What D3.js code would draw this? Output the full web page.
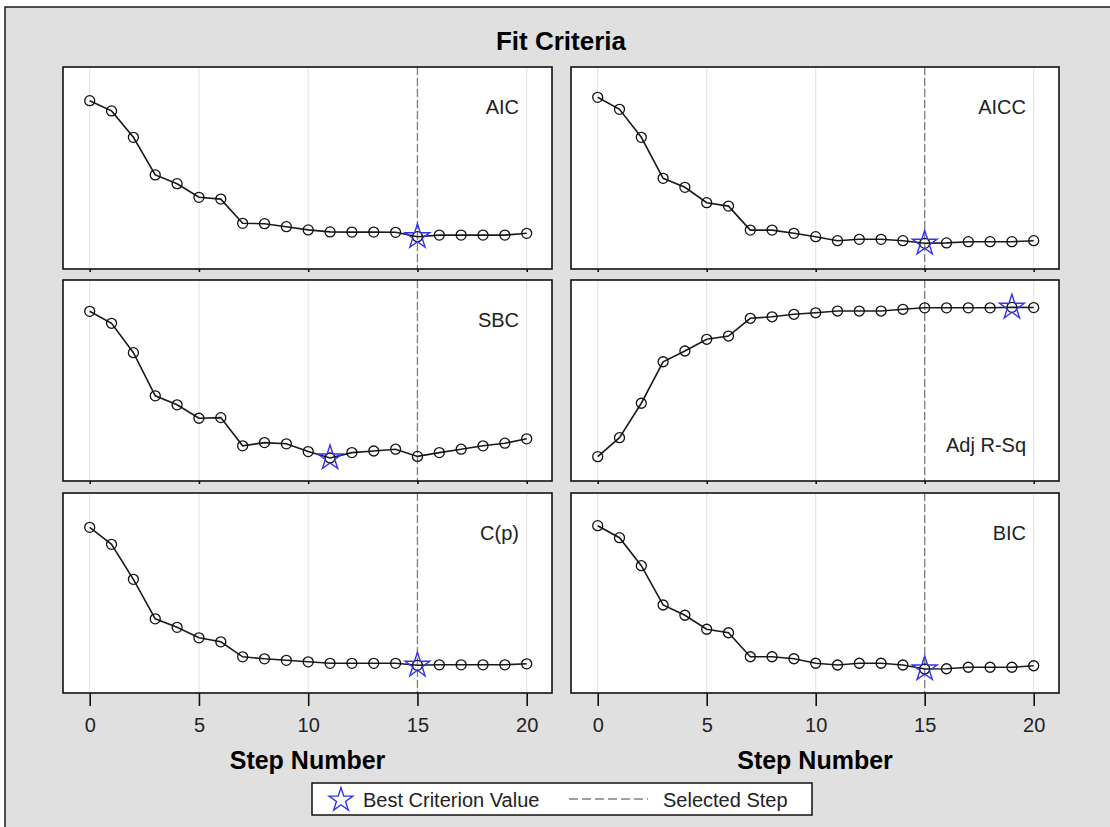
<!DOCTYPE html>
<html>
<head>
<meta charset="utf-8">
<script src="https://cdn.jsdelivr.net/npm/d3@7"></script>
<style>
  html, body { margin: 0; padding: 0; background: #ffffff; }
  svg { display: block; font-family: "Liberation Sans", Arial, sans-serif; }
</style>
</head>
<body>
<svg id="chart" width="1110" height="827"></svg>
<script>
// Step numbers shared by every panel
const steps = d3.range(0, 21);
const xTicks = [0, 5, 10, 15, 20];
const selectedStep = 15;

// Criterion values per step
const aic   = [1200, 1149, 1017, 829, 785, 717, 708, 587, 585, 570, 554, 544, 543, 543, 542, 520, 528, 528, 528, 528, 537];
const aicc  = [1210, 1150, 1010, 805, 760, 683, 666, 546, 546, 530, 513, 493, 500, 500, 493, 480, 482, 488, 488, 488, 493];
const sbc   = [1300, 1240, 1093, 877, 832, 765, 768, 627, 643, 637, 598, 566, 593, 601, 610, 574, 593, 610, 627, 640, 662];
const adjRsq = [0.352, 0.428, 0.566, 0.732, 0.775, 0.822, 0.835, 0.906, 0.912, 0.922, 0.928, 0.935, 0.935, 0.935, 0.942, 0.948, 0.948, 0.948, 0.948, 0.950, 0.949];
const cp    = [300, 266, 196, 117, 100, 79, 71, 41, 37, 34, 31, 28, 28, 28, 28, 24, 25, 25, 25, 25, 27];
const bic   = [1000, 952, 840, 683, 642, 586, 572, 476, 476, 468, 450, 443, 450, 450, 443, 427, 428, 434, 434, 434, 440];

const criterionNames = ["AIC", "AICC", "SBC", "Adj R-Sq", "C(p)", "BIC"];
const criterionValues = [aic, aicc, sbc, adjRsq, cp, bic];
// best value: minimum for all criteria except adjusted R-square (maximum)
const bestIsMax = [false, false, false, true, false, false];

// ---- layout ----
const colX = [63, 571];
const panelW = [489, 488];
const rowY = [67, 280, 493];
const panelH = [202, 201, 200];
const xPadL = 26.7, xPadR = 25.3;
// vertical insets (top, bottom) of the plotted data range in each panel
const insets = [[33.7, 32.3], [30.3, 25.7], [31.3, 23], [27.3, 24.3], [34.3, 27.7], [32.7, 24]];

const svg = d3.select("#chart");

// outer background and frame
svg.append("rect").attr("x", 5).attr("y", 7).attr("width", 1200).attr("height", 900)
  .attr("fill", "#e0e0e0").attr("stroke", "#1a1a1a").attr("stroke-width", 1.5);

// title
svg.append("text").attr("x", 561).attr("y", 50).attr("text-anchor", "middle")
  .attr("font-size", 26).attr("font-weight", "bold").attr("fill", "#000")
  .text("Fit Criteria");

function starPath(r) {
  return d3.symbol().type(d3.symbolStar).size(r * r / 0.8908130915292852)();
}

criterionNames.forEach((name, i) => {
  const col = i % 2, row = Math.floor(i / 2);
  const x0 = colX[col], y0 = rowY[row], w = panelW[col], h = panelH[row];
  const vals = criterionValues[i];
  const data = steps.map((s, k) => ({ step: s, v: vals[k] }));

  const x = d3.scaleLinear().domain([0, 20]).range([x0 + xPadL, x0 + w - xPadR]);
  const y = d3.scaleLinear().domain(d3.extent(vals)).range([y0 + h - insets[i][1], y0 + insets[i][0]]);

  const g = svg.append("g");

  // panel background
  g.append("rect").attr("x", x0).attr("y", y0).attr("width", w).attr("height", h).attr("fill", "#fff");

  // vertical grid lines
  g.selectAll("line.grid").data(xTicks).join("line").attr("class", "grid")
    .attr("x1", d => x(d)).attr("x2", d => x(d)).attr("y1", y0).attr("y2", y0 + h)
    .attr("stroke", "#e6e6e6").attr("stroke-width", 1.2);

  // selected step reference line
  g.append("line").attr("x1", x(selectedStep)).attr("x2", x(selectedStep))
    .attr("y1", y0).attr("y2", y0 + h)
    .attr("stroke", "#808080").attr("stroke-width", 1.3).attr("stroke-dasharray", "8,3");

  // criterion curve
  g.append("path").datum(data)
    .attr("d", d3.line().x(d => x(d.step)).y(d => y(d.v)))
    .attr("fill", "none").attr("stroke", "#1a1a1a").attr("stroke-width", 1.6);

  g.selectAll("circle").data(data).join("circle")
    .attr("cx", d => x(d.step)).attr("cy", d => y(d.v)).attr("r", 5)
    .attr("fill", "none").attr("stroke", "#111").attr("stroke-width", 1.3);

  // best criterion value
  const best = bestIsMax[i] ? d3.greatest(data, d => d.v) : d3.least(data, d => d.v);
  g.append("path").attr("d", starPath(13))
    .attr("transform", `translate(${x(best.step)},${y(best.v)})`)
    .attr("fill", "none").attr("stroke", "#3232f0").attr("stroke-width", 1.4);

  // panel label
  const labelBottom = bestIsMax[i];
  g.append("text")
    .attr("x", x0 + w - 33)
    .attr("y", labelBottom ? y0 + h - 29 : y0 + 47)
    .attr("text-anchor", "end").attr("font-size", 20).attr("fill", "#222")
    .text(name);

  // frame
  g.append("rect").attr("x", x0).attr("y", y0).attr("width", w).attr("height", h)
    .attr("fill", "none").attr("stroke", "#111").attr("stroke-width", 1.6);

  // x axis
  const isBottom = row === 2;
  const axis = d3.axisBottom(x).tickValues(xTicks)
    .tickSize(isBottom ? 13 : 3).tickSizeOuter(0).tickPadding(11);
  const ag = svg.append("g").attr("transform", `translate(0,${y0 + h})`).call(axis);
  ag.select(".domain").remove();
  ag.selectAll(".tick line").attr("stroke", "#111").attr("stroke-width", 1.6);
  if (isBottom) {
    ag.selectAll(".tick text").attr("font-size", 20).attr("fill", "#222")
      .attr("font-family", "Liberation Sans, Arial, sans-serif").attr("dy", "0.75em");
    svg.append("text").attr("x", x0 + w / 2).attr("y", 769).attr("text-anchor", "middle")
      .attr("font-size", 25).attr("font-weight", "bold").attr("fill", "#000")
      .text("Step Number");
  } else {
    ag.selectAll(".tick text").remove();
  }
});

// legend
const lg = svg.append("g");
lg.append("rect").attr("x", 312).attr("y", 783).attr("width", 500).attr("height", 32)
  .attr("fill", "#fff").attr("stroke", "#111").attr("stroke-width", 1.5);
lg.append("path").attr("d", starPath(12.5)).attr("transform", "translate(341,800)")
  .attr("fill", "none").attr("stroke", "#3232f0").attr("stroke-width", 1.4);
lg.append("text").attr("x", 363).attr("y", 806.5).attr("font-size", 20).attr("fill", "#222")
  .text("Best Criterion Value");
lg.append("line").attr("x1", 569).attr("x2", 648).attr("y1", 799).attr("y2", 799)
  .attr("stroke", "#808080").attr("stroke-width", 1.3).attr("stroke-dasharray", "9,4");
lg.append("text").attr("x", 663).attr("y", 806.5).attr("font-size", 20).attr("fill", "#222")
  .text("Selected Step");
</script>
</body>
</html>
